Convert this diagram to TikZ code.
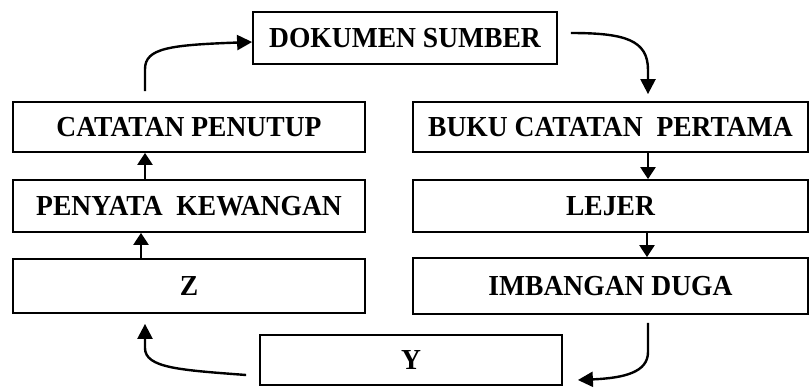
\documentclass[tikz,border=0pt]{standalone}
\usepackage{fontspec}
\newfontfamily\boxfont{Liberation Serif}[FakeStretch=0.95]
\usetikzlibrary{arrows.meta}
\begin{document}
\begin{tikzpicture}[x=1pt,y=-1pt,
  box/.style={draw, line width=1.8pt, inner sep=0pt, font=\boxfont\bfseries\fontsize{29}{30}\selectfont,
    text height=19pt, text depth=0pt},
  bigarr/.style={line width=2.4pt, -{Triangle[length=15pt,width=15pt]}},
  smallarr/.style={line width=2.4pt, -{Triangle[length=12pt,width=15pt]}}]
\useasboundingbox (0,0) rectangle (811,388);
\node[box, minimum width=304pt, minimum height=52pt] (dok) at (405,38) {DOKUMEN SUMBER};
\node[box, minimum width=352pt, minimum height=50pt] (penutup) at (189,127) {CATATAN PENUTUP};
\node[box, minimum width=395pt, minimum height=50pt] (buku) at (610.5,127) {BUKU CATATAN\ \ PERTAMA};
\node[box, minimum width=352pt, minimum height=52pt] (penyata) at (189,206) {PENYATA\ \ KEWANGAN};
\node[box, minimum width=395pt, minimum height=52pt] (lejer) at (610.5,206) {LEJER};
\node[box, minimum width=352pt, minimum height=54pt] (z) at (189,286) {Z};
\node[box, minimum width=395pt, minimum height=56pt] (imbangan) at (610.5,286) {IMBANGAN DUGA};
\node[box, minimum width=302pt, minimum height=50pt] (y) at (411,360) {Y};
% straight arrows
\draw[smallarr] ([xshift=-44pt]penyata.north) -- ([xshift=-44pt]penutup.south);
\draw[smallarr] ([xshift=-48pt]z.north) -- ([xshift=-48pt]penyata.south);
\draw[smallarr] ([xshift=37.5pt]buku.south) -- ([xshift=37.5pt]lejer.north);
\draw[smallarr] ([xshift=36.5pt]lejer.south) -- ([xshift=36.5pt]imbangan.north);
% curved arrows
\coordinate (s1) at ([xshift=-44pt,yshift=10pt]penutup.north);
\draw[bigarr] (s1) -- ++(0,-22) .. controls (145,48) and (170,45) .. ([yshift=-4pt]dok.west);
\coordinate (s2) at ([xshift=13pt,yshift=5pt]dok.east);
\coordinate (e2) at ([xshift=37.5pt,yshift=7pt]buku.north);
\draw[bigarr] (s2) .. controls (625,33) and (648,40) .. (648,70) -- (e2);
\coordinate (s3) at ([xshift=37.5pt,yshift=-8pt]imbangan.south);
\coordinate (e3) at ([xshift=15pt,yshift=-20pt]y.east);
\draw[bigarr] (s3) -- (648,352) .. controls (648,372) and (625,378) .. (e3);
\coordinate (s4) at ([xshift=-13pt,yshift=-15pt]y.west);
\coordinate (e4) at ([xshift=-44pt,yshift=-10pt]z.south);
\draw[bigarr] (s4) .. controls (180,370) and (145,368) .. (145,348) -- (e4);
\end{tikzpicture}
\end{document}
